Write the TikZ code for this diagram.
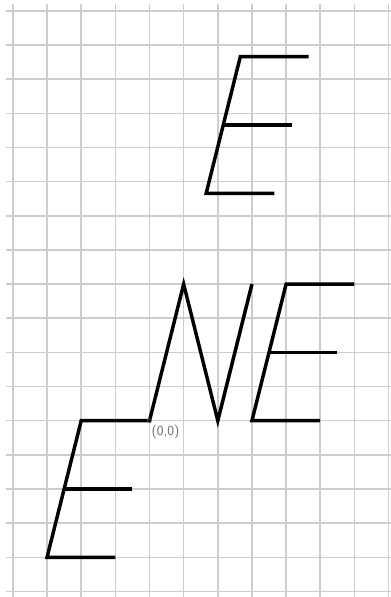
\documentclass[tikz,border=0pt]{standalone}
\usepackage{tikz}
\usetikzlibrary{positioning}
\definecolor{gridgray}{RGB}{205,205,205}
\definecolor{labelgray}{RGB}{95,105,125}

\begin{document}
\begin{tikzpicture}[gridline/.style={gridgray, line width=1.3pt},
    letter/.style={black, line width=2.9pt, line join=miter},
    lettere/.pic={
      \draw[letter] (2,0) -- (0,0) -- (1,4) -- (3,4);
      \draw[letter] (0.5,2) -- (2.5,2);
    }]
      \useasboundingbox (-4.378,-5.163) rectangle (7.071,12.32);
      \draw[gridline] (-4.2,-5.163) grid (7.071,12.19);

      \coordinate (O) at (0,0);
      \draw[letter] (-1,-4) -- (-3,-4) -- (-2,0) -- (O) -- (1,4) -- (2,0) -- (3,4);
      \draw[letter] (-2.5,-2) -- (-0.5,-2);
      \pic at (3,0) {lettere};
      \pic at (1.66,6.66) {lettere};

      \draw[labelgray, line width=0.5pt] (O) circle (0.06);
      \node[labelgray, font=\sffamily\fontsize{11.5}{12}\selectfont, anchor=north west, inner sep=1pt] (origin) at (0.02,-0.1) {(0,0)};
\end{tikzpicture}
\end{document}
